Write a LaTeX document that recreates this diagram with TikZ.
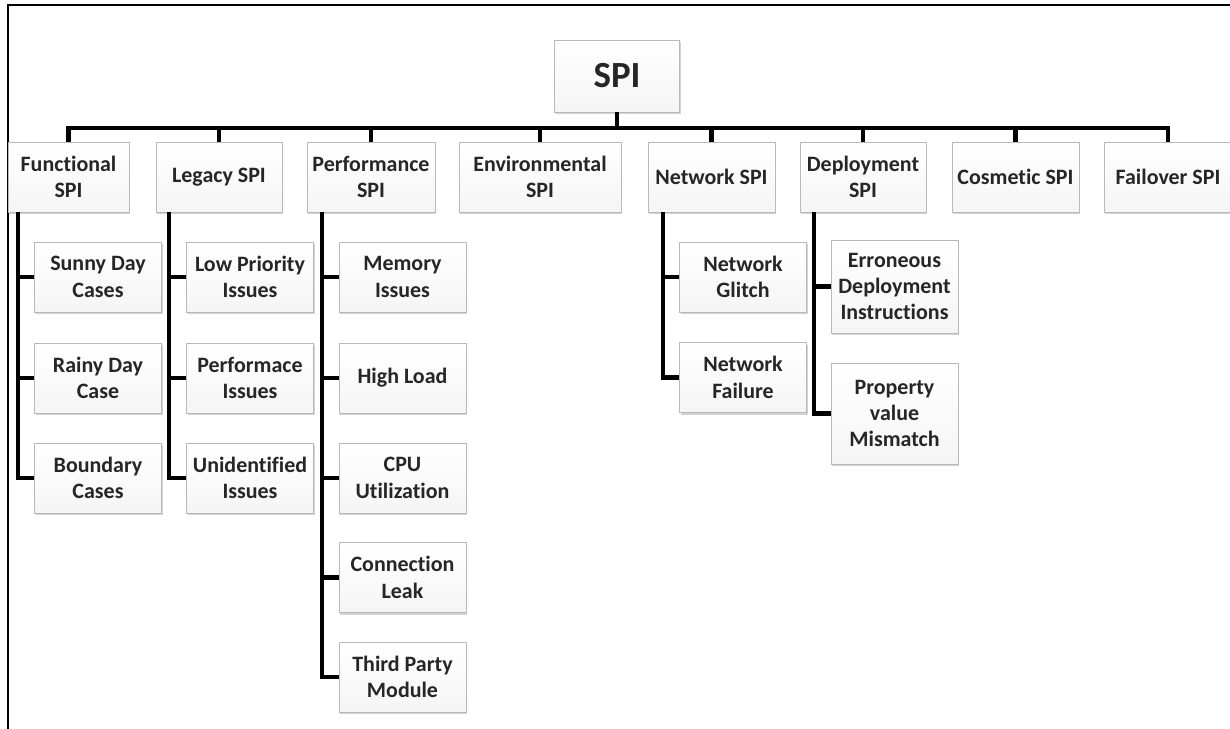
\documentclass[tikz,border=0pt]{standalone}
\usepackage{fontspec}
\setmainfont{Carlito}[Ligatures=NoCommon]
\usetikzlibrary{calc, positioning, shadows}
\tikzset{
x=0.02cm, y=-0.02cm, % one unit per pixel, y grows downwards
box/.style={draw=gray!55, top color=white, bottom color=gray!8, % boxes of the tree
  drop shadow={shadow xshift=0.7pt, shadow yshift=-1.3pt, opacity=0.35, fill=gray},
  text=black!85, align=center, inner sep=1pt,
  font=\bfseries\fontsize{12.5}{15}\selectfont,
  minimum width=#1, minimum height=1.4cm},
box/.default=2.54cm,
conn/.style={line width=2.7pt, black}, % tree connectors
frame/.style={line width=1.4pt, black},
}

\begin{document}
\begin{tikzpicture}
  \useasboundingbox (0,0) rectangle (1230,729);
  \draw[frame] (8,729) -- (8,5) -- (1230,5);

  % root and first level
  \node[box=2.5cm, minimum height=1.44cm, font=\bfseries\fontsize{21}{24}\selectfont] (spi) at (617,76) {SPI};
  \node[box=2.42cm] (fun) at (68.5,177) {Functional\\SPI};
  \node[box=2.52cm] (leg) at (219,177) {Legacy SPI};
  \node[box=2.56cm] (perf) at (371,177) {Performance\\SPI};
  \node[box=3.24cm] (env) at (540,177) {Environmental\\SPI};
  \node[box] (net) at (711.5,177) {Network SPI};
  \node[box=2.52cm] (dep) at (863,177) {Deployment\\SPI};
  \node[box] (cos) at (1015.5,177) {Cosmetic SPI};
  \node[box=2.56cm] (fail) at (1168,177) {Failover SPI};

  % second level
  \node[box] (sunny) at (98,277) {Sunny Day\\Cases};
  \node[box] (rainy) at (98,378) {Rainy Day\\Case};
  \node[box] (bound) at (98,478) {Boundary\\Cases};
  \node[box] (low) at (250,277) {Low Priority\\Issues};
  \node[box] (perfiss) at (250,378) {Performace\\Issues};
  \node[box] (unid) at (250,478) {Unidentified\\Issues};
  \node[box] (mem) at (402.5,277) {Memory\\Issues};
  \node[box] (load) at (402.5,378) {High Load};
  \node[box] (cpu) at (402.5,478) {CPU\\Utilization};
  \node[box] (leak) at (402.5,577.5) {Connection\\Leak};
  \node[box] (third) at (402.5,677) {Third Party\\Module};
  \node[box] (glitch) at (743,277) {Network\\Glitch};
  \node[box] (nfail) at (743,377.5) {Network\\Failure};
  \node[box, minimum height=1.86cm] (erron) at (894.5,286.5) {Erroneous\\Deployment\\Instructions};
  \node[box, minimum height=2.02cm] (prop) at (894.5,413.5) {Property\\value\\Mismatch};

  % bus under the root
  \coordinate (bus) at (0,128);
  \draw[conn] (spi.south) -- (spi.south |- bus);
  \draw[conn] (fun.north) -- (fun.north |- bus) -- (fail.north |- bus) -- (fail.north);
  \draw[conn] (leg.north) -- (leg.north |- bus);
  \draw[conn] (perf.north) -- (perf.north |- bus);
  \draw[conn] (env.north) -- (env.north |- bus);
  \draw[conn] (net.north) -- (net.north |- bus);
  \draw[conn] (dep.north) -- (dep.north |- bus);
  \draw[conn] (cos.north) -- (cos.north |- bus);

  % column bars
  \coordinate (funbar) at (18,0);
  \coordinate (legbar) at (169,0);
  \coordinate (perfbar) at (322,0);
  \coordinate (netbar) at (663,0);
  \coordinate (depbar) at (814,0);

  \draw[conn] (fun.south -| funbar) |- (bound.west);
  \draw[conn] (sunny.west) -- (sunny.west -| funbar);
  \draw[conn] (rainy.west) -- (rainy.west -| funbar);

  \draw[conn] (leg.south -| legbar) |- (unid.west);
  \draw[conn] (low.west) -- (low.west -| legbar);
  \draw[conn] (perfiss.west) -- (perfiss.west -| legbar);

  \draw[conn] (perf.south -| perfbar) |- (third.west);
  \draw[conn] (mem.west) -- (mem.west -| perfbar);
  \draw[conn] (load.west) -- (load.west -| perfbar);
  \draw[conn] (cpu.west) -- (cpu.west -| perfbar);
  \draw[conn] (leak.west) -- (leak.west -| perfbar);

  \draw[conn] (net.south -| netbar) |- (nfail.west);
  \draw[conn] (glitch.west) -- (glitch.west -| netbar);

  \draw[conn] (dep.south -| depbar) |- (prop.west);
  \draw[conn] (erron.west) -- (erron.west -| depbar);
\end{tikzpicture}
\end{document}
